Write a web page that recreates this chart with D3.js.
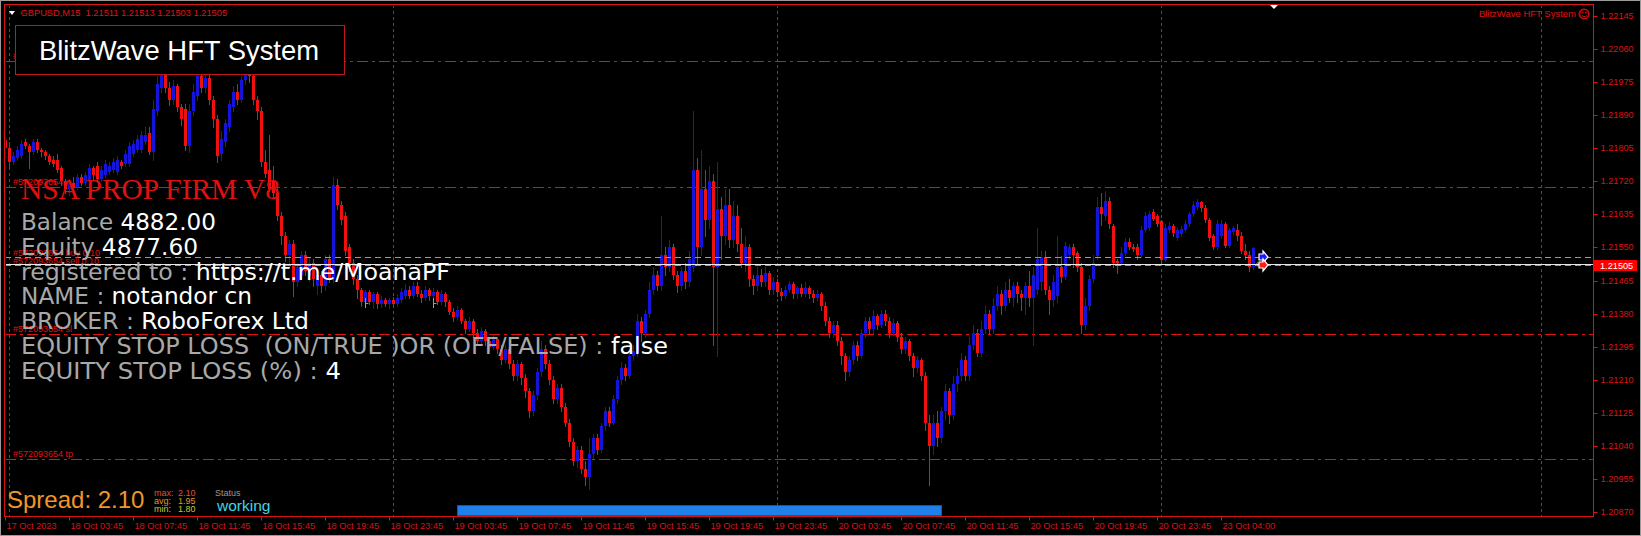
<!DOCTYPE html>
<html><head><meta charset="utf-8">
<script src="https://cdn.jsdelivr.net/npm/d3@7"></script>
<style>html,body{margin:0;padding:0;background:#000;overflow:hidden}svg text{white-space:pre}</style>
</head><body>
<svg id="chart" width="1641" height="536"></svg>
<script>
// ---------- data ----------
const symbolHeader = "GBPUSD,M15  1.21511 1.21513 1.21503 1.21505";
const priceTicks = [1.22145,1.22060,1.21975,1.21890,1.21805,1.21720,1.21635,1.21550,1.21465,1.21380,1.21295,1.21210,1.21125,1.21040,1.20955,1.20870];
const timeTickBars = [0,16,32,48,64,80,96,112,128,144,160,176,192,208,224,240,256,272,288,304];
const timeLabels = ["17 Oct 2023","18 Oct 03:45","18 Oct 07:45","18 Oct 11:45","18 Oct 15:45","18 Oct 19:45","18 Oct 23:45","19 Oct 03:45","19 Oct 07:45","19 Oct 11:45","19 Oct 15:45","19 Oct 19:45","19 Oct 23:45","20 Oct 03:45","20 Oct 07:45","20 Oct 11:45","20 Oct 15:45","20 Oct 19:45","20 Oct 23:45","23 Oct 04:00"];
const daySeparatorBars = [1,97,193,289,384];

// M15 candles, bar 0 = 17 Oct 23:45
const open = [
1.21825,1.21805,1.2177,1.2178,1.21785,1.2182,1.2181,1.21795,1.2182,1.218,
1.21795,1.21785,1.21775,1.21775,1.21755,1.2172,1.217,1.21715,1.21705,1.2173,
1.21715,1.2172,1.21755,1.2176,1.21725,1.21735,1.21745,1.2175,1.21745,1.2177,
1.21765,1.21765,1.2179,1.218,1.218,1.2182,1.21845,1.21795,1.219,1.2196,
1.2201,1.2196,1.2193,1.21965,1.2191,1.21905,1.2181,1.219,1.2194,1.2199,
1.2196,1.21985,1.2193,1.2188,1.2179,1.2182,1.2186,1.2191,1.2195,1.2193,
1.2198,1.2201,1.2199,1.2193,1.219,1.2177,1.2175,1.2172,1.2169,1.2163,
1.2158,1.2153,1.2156,1.2146,1.2148,1.2153,1.2148,1.2151,1.2145,1.2148,
1.2145,1.2152,1.2147,1.2171,1.2166,1.2163,1.2155,1.2151,1.2147,1.2144,
1.2141,1.21435,1.2141,1.2143,1.21405,1.21415,1.21405,1.21415,1.21405,1.21415,
1.21425,1.2144,1.21425,1.2145,1.2143,1.2142,1.2144,1.21425,1.21435,1.2141,
1.2143,1.2141,1.21385,1.2137,1.2139,1.2136,1.2134,1.2136,1.2133,1.2131,
1.21335,1.2131,1.21295,1.21315,1.2129,1.2126,1.2129,1.2125,1.2122,1.2125,
1.21215,1.2118,1.2113,1.2117,1.2123,1.2129,1.2125,1.2121,1.2116,1.2119,
1.2114,1.211,1.2105,1.21,1.2103,1.2098,1.2096,1.2102,1.2106,1.2103,
1.2109,1.2113,1.211,1.2116,1.2121,1.2124,1.2122,1.2127,1.2128,1.2136,
1.2133,1.2138,1.2144,1.2148,1.2145,1.2153,1.215,1.2155,1.2148,1.2145,
1.2149,1.2146,1.215,1.2175,1.2155,1.217,1.2162,1.2172,1.215,1.2165,
1.2158,1.2166,1.2157,1.2163,1.2156,1.2151,1.2155,1.2147,1.2145,1.2148,
1.2146,1.21485,1.2144,1.2146,1.21435,1.21425,1.2144,1.21455,1.2143,1.21445,
1.2143,1.21445,1.2143,1.2142,1.2143,1.214,1.2136,1.2133,1.2135,1.2131,
1.2127,1.2123,1.2126,1.213,1.2127,1.2133,1.2136,1.2134,1.21375,1.2135,
1.2138,1.2136,1.2133,1.21355,1.2132,1.2129,1.2131,1.2127,1.2124,1.2126,
1.2122,1.211,1.2104,1.211,1.2106,1.2113,1.2118,1.2112,1.212,1.2122,
1.2126,1.2122,1.213,1.2133,1.2128,1.2134,1.2138,1.2134,1.214,1.2143,
1.214,1.2144,1.2142,1.2145,1.2143,1.2142,1.2145,1.2142,1.2144,1.2146,
1.21525,1.2144,1.21415,1.21425,1.215,1.21475,1.2153,1.2155,1.21535,1.215,
1.2135,1.214,1.2147,1.21527,1.21655,1.2163,1.2167,1.21604,1.21515,1.2151,
1.21535,1.21565,1.21552,1.2155,1.2153,1.21596,1.216,1.2164,1.2163,1.21618,
1.21517,1.21595,1.21606,1.21575,1.21585,1.21595,1.2161,1.21635,1.21655,1.21668,
1.21652,1.2162,1.2158,1.2155,1.2158,1.2161,1.21555,1.2159,1.21595,1.2158,
1.2154,1.2153,1.215,1.21511];
const high = [
1.21835,1.2182,1.21795,1.2181,1.21825,1.2183,1.21815,1.2183,1.2183,1.21805,
1.218,1.2179,1.21785,1.2179,1.2176,1.21725,1.21725,1.2173,1.2174,1.2174,
1.21745,1.21765,1.2176,1.2177,1.2176,1.21775,1.2177,1.2178,1.21785,1.21775,
1.218,1.2182,1.21825,1.2184,1.2185,1.2186,1.2186,1.2193,1.2199,1.2203,
1.2202,1.21975,1.2198,1.2197,1.2192,1.2192,1.2192,1.2197,1.22005,1.22,
1.2201,1.21995,1.2194,1.2189,1.2185,1.2188,1.2193,1.21965,1.2197,1.2199,
1.2203,1.22025,1.22,1.2194,1.2191,1.218,1.2184,1.2176,1.2171,1.2164,
1.2159,1.2157,1.2157,1.2151,1.2154,1.2154,1.21525,1.2152,1.2149,1.2149,
1.2153,1.2153,1.2173,1.21725,1.2167,1.2164,1.2156,1.2152,1.2148,1.21445,
1.2144,1.2144,1.21435,1.21435,1.21425,1.2142,1.2142,1.21423,1.2143,1.21445,
1.21455,1.2145,1.2146,1.2146,1.2144,1.2145,1.21445,1.21445,1.2144,1.2144,
1.21435,1.21415,1.21395,1.214,1.21395,1.21365,1.2137,1.21365,1.2134,1.21345,
1.2134,1.2132,1.21325,1.2132,1.213,1.213,1.21295,1.2126,1.2126,1.21255,
1.21225,1.2119,1.2118,1.2124,1.2131,1.213,1.2126,1.2122,1.212,1.212,
1.2115,1.2111,1.2106,1.2104,1.2104,1.21,1.2106,1.2107,1.2107,1.211,
1.2114,1.2114,1.2117,1.2122,1.21255,1.2125,1.2128,1.213,1.2138,1.2137,
1.2139,1.2146,1.215,1.2149,1.2163,1.2155,1.2157,1.2156,1.2149,1.215,
1.2151,1.2154,1.219,1.2178,1.218,1.2175,1.2176,1.2174,1.2177,1.2168,
1.217,1.217,1.2167,1.2166,1.216,1.2158,1.2156,1.2148,1.215,1.21495,
1.215,1.2149,1.21475,1.2147,1.21445,1.2145,1.21465,1.2146,1.2145,1.21455,
1.2146,1.2145,1.2144,1.2144,1.21435,1.2141,1.2137,1.2136,1.2136,1.2132,
1.2128,1.2127,1.2131,1.2131,1.2134,1.2137,1.2137,1.2139,1.2138,1.2139,
1.2139,1.2137,1.21365,1.2136,1.2133,1.2132,1.21315,1.2128,1.2127,1.21265,
1.2123,1.2112,1.2112,1.2113,1.2114,1.212,1.2119,1.2122,1.2124,1.2128,
1.2127,1.2132,1.2135,1.2134,1.2136,1.214,1.2139,1.2142,1.2145,1.2144,
1.2146,1.2147,1.2146,1.2146,1.2144,1.2146,1.2149,1.215,1.216,1.2154,
1.2154,1.2145,1.2148,1.2158,1.21527,1.21565,1.2156,1.2156,1.2154,1.2151,
1.2142,1.2148,1.2153,1.2168,1.2169,1.21695,1.2168,1.2161,1.2152,1.2155,
1.21575,1.21575,1.21558,1.21558,1.21605,1.2164,1.21645,1.2165,1.21635,1.2162,
1.2161,1.21615,1.2161,1.216,1.21605,1.2162,1.2164,1.2167,1.21675,1.2167,
1.2166,1.21625,1.21585,1.2162,1.2162,1.21615,1.216,1.21605,1.2161,1.2159,
1.2156,1.2154,1.2155,1.21513];
const low = [
1.218,1.2176,1.21765,1.21775,1.2178,1.21805,1.21755,1.2179,1.21795,1.21785,
1.21778,1.21765,1.2176,1.21745,1.2171,1.2169,1.21685,1.217,1.217,1.2171,
1.2171,1.21715,1.21725,1.2172,1.2172,1.2173,1.2174,1.21745,1.2174,1.21755,
1.2176,1.2176,1.21785,1.21795,1.21795,1.21815,1.2179,1.21775,1.2189,1.2195,
1.2195,1.21915,1.2192,1.219,1.21865,1.218,1.21795,1.2189,1.2193,1.2195,
1.2195,1.2192,1.2186,1.2177,1.21775,1.2181,1.2185,1.219,1.2192,1.21925,
1.2197,1.21975,1.2192,1.2188,1.2176,1.2173,1.21695,1.2168,1.2162,1.2156,
1.21515,1.215,1.21425,1.2145,1.2147,1.2148,1.21465,1.2145,1.2143,1.21435,
1.2144,1.2146,1.2146,1.2165,1.2161,1.2153,1.2149,1.21455,1.2142,1.214,
1.214,1.21405,1.21395,1.21395,1.21398,1.214,1.21395,1.214,1.214,1.2141,
1.2142,1.2142,1.2142,1.21425,1.2141,1.21415,1.21415,1.2142,1.21405,1.21405,
1.214,1.2138,1.2136,1.21365,1.21355,1.2133,1.21335,1.2132,1.213,1.21305,
1.213,1.21285,1.2129,1.2128,1.2125,1.21255,1.2124,1.2121,1.2121,1.212,
1.21165,1.21115,1.2112,1.2116,1.2122,1.2124,1.212,1.2115,1.2115,1.2113,
1.2109,1.2104,1.2099,1.20985,1.2097,1.2094,1.2093,1.2101,1.2102,1.21025,
1.2108,1.2109,1.21095,1.2115,1.212,1.2121,1.21215,1.2126,1.2127,1.2131,
1.2132,1.2137,1.2143,1.2144,1.2144,1.2148,1.2149,1.2147,1.21435,1.2144,
1.21445,1.2145,1.2149,1.2151,1.2153,1.2158,1.216,1.213,1.2127,1.2152,
1.2156,1.2155,1.2155,1.2154,1.215,1.2149,1.2145,1.2143,1.2144,1.2145,
1.2145,1.2143,1.2143,1.21425,1.21415,1.2142,1.21435,1.2142,1.2142,1.21425,
1.21425,1.2142,1.2141,1.21415,1.2139,1.2135,1.2132,1.2132,1.213,1.2125,
1.2121,1.2122,1.2125,1.2126,1.21265,1.2132,1.2133,1.2133,1.2134,1.21345,
1.2135,1.2132,1.21325,1.2131,1.2128,1.2128,1.2126,1.2122,1.2123,1.2121,
1.2108,1.2094,1.2102,1.2104,1.2105,1.2111,1.211,1.2111,1.2118,1.2121,
1.2121,1.2121,1.2129,1.2127,1.2127,1.2133,1.2133,1.2133,1.2139,1.2138,
1.2139,1.2141,1.214,1.2141,1.2139,1.2138,1.214,1.213,1.2143,1.2144,
1.2143,1.2138,1.214,1.2141,1.2146,1.2147,1.2152,1.215,1.2149,1.2133,
1.2134,1.2139,1.2146,1.2152,1.21608,1.2162,1.216,1.215,1.21485,1.21505,
1.2153,1.21545,1.2154,1.2152,1.21525,1.2159,1.21595,1.2162,1.21605,1.2151,
1.21515,1.2159,1.2158,1.2157,1.2158,1.2159,1.21605,1.2163,1.2165,1.21645,
1.21615,1.2157,1.21545,1.21545,1.21575,1.2155,1.2155,1.21585,1.2157,1.21535,
1.2152,1.2149,1.21495,1.21503];
const close = [
1.21805,1.2177,1.21785,1.218,1.21815,1.2181,1.21795,1.2182,1.218,1.21795,
1.21785,1.2177,1.21765,1.2175,1.2172,1.217,1.21715,1.21705,1.2173,1.21715,
1.21735,1.21755,1.21735,1.21725,1.2175,1.21765,1.2176,1.2177,1.21775,1.2176,
1.2179,1.2181,1.21815,1.2183,1.2184,1.2184,1.21795,1.21905,1.2197,1.2201,
1.2196,1.2193,1.21965,1.2191,1.2188,1.2181,1.219,1.2195,1.2199,1.2196,
1.21985,1.2193,1.2188,1.21785,1.2183,1.2187,1.2192,1.2195,1.2193,1.2198,
1.2201,1.2199,1.2193,1.219,1.2177,1.2174,1.217,1.2169,1.2163,1.2158,
1.2153,1.2156,1.2146,1.215,1.2153,1.2149,1.2151,1.2147,1.2148,1.2145,
1.2152,1.2147,1.2171,1.2166,1.2162,1.2154,1.2151,1.2147,1.2144,1.2141,
1.21435,1.2141,1.2143,1.21405,1.21415,1.21405,1.21415,1.21405,1.2142,1.21435,
1.2144,1.21425,1.2145,1.2143,1.2142,1.2144,1.21425,1.21435,1.2141,1.2143,
1.2141,1.21385,1.2137,1.2139,1.2136,1.2134,1.2136,1.2133,1.2131,1.21335,
1.2131,1.21295,1.21315,1.2129,1.2126,1.2129,1.2125,1.2122,1.2125,1.21215,
1.2118,1.2113,1.2117,1.2123,1.2129,1.2125,1.2121,1.2116,1.2119,1.2114,
1.211,1.2105,1.21,1.2103,1.2098,1.2096,1.2102,1.2106,1.2103,1.2109,
1.2113,1.211,1.2116,1.2121,1.2124,1.2122,1.2127,1.21285,1.2136,1.2133,
1.2138,1.2144,1.2148,1.2145,1.2153,1.215,1.2155,1.2148,1.2145,1.2149,
1.2146,1.2152,1.2175,1.2155,1.217,1.2162,1.2172,1.215,1.2165,1.2158,
1.2166,1.2157,1.2163,1.2156,1.2151,1.2155,1.2147,1.2145,1.2148,1.2146,
1.21485,1.2144,1.2146,1.21435,1.21425,1.2144,1.21455,1.2143,1.21445,1.2143,
1.21445,1.2143,1.2142,1.2143,1.214,1.2136,1.2133,1.2135,1.2131,1.2127,
1.2123,1.2126,1.213,1.2127,1.2133,1.2136,1.2134,1.21375,1.2135,1.2138,
1.2136,1.2133,1.21355,1.2132,1.2129,1.2131,1.2127,1.2124,1.2126,1.2122,
1.211,1.2104,1.211,1.2106,1.2113,1.2118,1.2112,1.212,1.2122,1.2126,
1.2122,1.213,1.2133,1.2128,1.2134,1.2138,1.2134,1.214,1.2143,1.214,
1.2144,1.2142,1.2145,1.2143,1.2142,1.2145,1.2142,1.2148,1.2152,1.21525,
1.2144,1.21415,1.2146,1.215,1.21475,1.21555,1.2155,1.2153,1.215,1.2135,
1.214,1.2147,1.2151,1.21653,1.21636,1.2167,1.2161,1.2151,1.2151,1.21537,
1.21565,1.21552,1.21547,1.2153,1.21596,1.2163,1.21635,1.21624,1.2161,1.21517,
1.21599,1.21606,1.21586,1.21595,1.21598,1.2161,1.21635,1.2166,1.21668,1.21652,
1.2162,1.21575,1.2155,1.2161,1.2161,1.21555,1.21595,1.216,1.2158,1.2154,
1.2153,1.215,1.21548,1.21505];

const bid = 1.21505;
const orderLevels = [1.22029,1.21706,1.21327,1.21005];
const orderLabels = ["#572093654 tp","#572093654","#572093654 sl","#572093654 tp"];
const openOrders = [1.21526,1.21505];
const openOrderLabels = ["#572093654 buy 0.10","#572093654 sell 0.10"];
const tradeMarkBars = [90,107];
const tradeMarkPrices = [1.21407,1.21407];
const infoLabels = ["Balance ","Equity ","registered to : ","NAME : ","BROKER : ","EQUITY STOP LOSS  (ON/TRUE )OR (OFF/FALSE) : ","EQUITY STOP LOSS (%) : "];
const infoValues = ["4882.00","4877.60","https://t.me/MoanaPF","notandor cn","RoboForex Ltd","false","4"];
const infoWidths = [195,177,429,231,288,647,320];
const spreadNow = "2.10";
const spreadStats = [["max:","2.10"],["avg:","1.95"],["min:","1.80"]];
const progressBars = [113,234];

// ---------- setup ----------
const W=1641,H=536;
const P={l:5,t:5,r:1593,b:516};
const RED="#e01212", AX="#d81414";
const svg=d3.select("#chart");
svg.append("rect").attr("width",W).attr("height",H).attr("fill","#000");
const y=d3.scaleLinear().domain([1.20870,1.22145]).range([512,16]);
const x=d3.scaleLinear().domain([0,397]).range([5,5+4*397]);
const cx=i=>Math.round(x(i));

svg.append("clipPath").attr("id","plotclip").append("rect")
  .attr("x",P.l+1).attr("y",P.t+1).attr("width",P.r-P.l-1).attr("height",P.b-P.t-1);
const plot=svg.append("g").attr("clip-path","url(#plotclip)");

plot.selectAll("line.vg").data(daySeparatorBars).enter().append("line")
  .attr("x1",d=>cx(d)+0.5).attr("x2",d=>cx(d)+0.5).attr("y1",P.t).attr("y2",P.b)
  .attr("stroke",AX).attr("stroke-dasharray","3,3").attr("stroke-width",1);

plot.selectAll("line.ol").data(orderLevels).enter().append("line")
  .attr("x1",P.l).attr("x2",P.r).attr("y1",d=>Math.round(y(d))+0.5).attr("y2",d=>Math.round(y(d))+0.5)
  .attr("stroke",RED).attr("stroke-dasharray","11,4,3,4");
plot.selectAll("text.ol").data(orderLevels).enter().append("text")
  .attr("x",13).attr("y",d=>Math.round(y(d))-2).text((d,i)=>orderLabels[i])
  .attr("fill",RED).attr("font-family","Liberation Sans, Arial").attr("font-size",9);

// candles
const idx=d3.range(open.length);
const BLUE="#1414dc", CRED="#f01010";
const col=i=>close[i]>open[i]?BLUE:CRED;
plot.selectAll("line.wick").data(idx).enter().append("line")
  .attr("x1",i=>cx(i)+0.5).attr("x2",i=>cx(i)+0.5)
  .attr("y1",i=>Math.round(y(high[i]))).attr("y2",i=>Math.round(y(low[i]))+1)
  .attr("stroke",col);
plot.selectAll("rect.body").data(idx).enter().append("rect")
  .attr("x",i=>cx(i)-1).attr("width",3)
  .attr("y",i=>Math.round(y(Math.max(open[i],close[i]))))
  .attr("height",i=>Math.max(1,Math.round(y(Math.min(open[i],close[i])))-Math.round(y(Math.max(open[i],close[i])))))
  .attr("fill",col);

// trade marks
tradeMarkBars.forEach((b,i)=>{
  const xx=cx(b)+0.5, yy=Math.round(y(tradeMarkPrices[i]));
  plot.append("line").attr("x1",xx).attr("x2",xx).attr("y1",yy-5).attr("y2",yy+5).attr("stroke","#30e030");
  plot.append("line").attr("x1",xx).attr("x2",xx+3).attr("y1",yy+0.5).attr("y2",yy+0.5).attr("stroke","#30e030");
});

// bid line and open-order lines
plot.append("line").attr("x1",P.l).attr("x2",P.r).attr("y1",Math.round(y(bid))-0.5).attr("y2",Math.round(y(bid))-0.5)
  .attr("stroke","#e8e8e8");
plot.selectAll("line.oo").data(openOrders).enter().append("line")
  .attr("x1",P.l).attr("x2",P.r).attr("y1",d=>Math.round(y(d))+0.5).attr("y2",d=>Math.round(y(d))+0.5)
  .attr("stroke","#58c858").attr("stroke-dasharray","6,4");
plot.selectAll("text.oo").data(openOrders).enter().append("text")
  .attr("x",13).attr("y",d=>Math.round(y(d))-1.5).text((d,i)=>openOrderLabels[i])
  .attr("fill",RED).attr("font-family","Liberation Sans, Arial").attr("font-size",9);

// trade arrows at last bar
const lastX=cx(open.length-1)+6;
[[openOrders[0],"#1a1aff"],[openOrders[1],"#ff1a1a"]].forEach(([p,c])=>{
  const yy=Math.round(y(p));
  plot.append("path").attr("d",`M${lastX-4},${yy-3} L${lastX},${yy-3} L${lastX},${yy-6} L${lastX+5},${yy} L${lastX},${yy+6} L${lastX},${yy+3} L${lastX-4},${yy+3} Z`)
    .attr("fill",c).attr("stroke","#fff").attr("stroke-width",1.2);
});

// frame
svg.append("rect").attr("x",P.l-0.5).attr("y",P.t-0.5).attr("width",P.r-P.l+1).attr("height",P.b-P.t+1)
  .attr("fill","none").attr("stroke",AX);

// price axis
const yAxis=d3.axisRight(y).tickValues(priceTicks).tickSize(4).tickPadding(3).tickFormat(d3.format(".5f"));
const ya=svg.append("g").attr("transform",`translate(${P.r+0.5},0)`).call(yAxis);
ya.select(".domain").remove();
ya.selectAll(".tick").attr("transform",d=>`translate(0,${Math.round(y(d))+0.5})`);
ya.selectAll("line").attr("stroke",AX);
ya.selectAll("text").attr("fill",AX).attr("font-family","Liberation Sans, Arial").attr("font-size",9.2);

const by=Math.round(y(bid));
svg.append("rect").attr("x",1594).attr("y",by-5).attr("width",43).attr("height",11).attr("fill","#ff0000");
svg.append("text").attr("x",1600).attr("y",by+3.5).text(d3.format(".5f")(bid))
  .attr("fill","#fff").attr("font-family","Liberation Sans, Arial").attr("font-size",9.2);

// time axis
const xAxis=d3.axisBottom(x).tickValues(timeTickBars).tickSize(4).tickFormat((d,i)=>timeLabels[i]);
const xa=svg.append("g").attr("transform",`translate(0,${P.b+0.5})`).call(xAxis);
xa.select(".domain").remove();
xa.selectAll(".tick").attr("transform",d=>`translate(${cx(d)+0.5},0)`);
xa.selectAll("line").attr("stroke",AX);
xa.selectAll("text").attr("fill",AX).attr("font-family","Liberation Sans, Arial").attr("font-size",9.2)
  .attr("text-anchor","start").attr("x",1).attr("y",6).attr("dy","0.71em");

// blue progress strip
svg.append("rect").attr("x",cx(progressBars[0])+0.5).attr("y",505.5).attr("width",cx(progressBars[1])-cx(progressBars[0])).attr("height",10)
  .attr("fill","#1e80ea").attr("stroke","#b02020");

// header
svg.append("path").attr("d","M9,11 L15,11 L12,15 Z").attr("fill","#fff");
svg.append("text").attr("x",20.5).attr("y",16).text(symbolHeader)
  .attr("fill",RED).attr("font-family","Liberation Sans, Arial").attr("font-size",9.3);
svg.append("text").attr("x",1576).attr("y",17).attr("text-anchor","end").text("BlitzWave HFT System")
  .attr("fill",RED).attr("font-family","Liberation Sans, Arial").attr("font-size",9.5);
svg.append("circle").attr("cx",1584).attr("cy",14).attr("r",5).attr("fill","none").attr("stroke",RED);
svg.append("text").attr("x",1584).attr("y",17.5).attr("text-anchor","middle").text("☺").attr("fill",RED).attr("font-size",11).attr("font-family","DejaVu Sans");
svg.append("path").attr("d","M1270,5 L1278,5 L1274,9 Z").attr("fill","#fff");

// title box
svg.append("rect").attr("x",15.5).attr("y",25.5).attr("width",329).attr("height",49).attr("fill","#000").attr("stroke","#c01818");
svg.append("text").attr("x",39).attr("y",60).text("BlitzWave HFT System")
  .attr("fill","#fff").attr("font-family","Liberation Sans, Arial").attr("font-size",27.4);

// panel
svg.append("text").attr("x",21).attr("y",198.5).text("NSA PROP FIRM V8")
  .attr("fill","#e01010").attr("font-family","Liberation Serif, Times New Roman").attr("font-size",28.5)
  .attr("textLength",259).attr("lengthAdjust","spacingAndGlyphs");
infoLabels.forEach((lab,i)=>{
  const t=svg.append("text").attr("x",21).attr("y",230+i*24.8)
    .attr("font-family","DejaVu Sans, Verdana").attr("font-size",23)
    .attr("textLength",infoWidths[i]).attr("lengthAdjust","spacingAndGlyphs");
  t.append("tspan").attr("fill","#a8a8a8").text(lab);
  t.append("tspan").attr("fill","#ffffff").text(infoValues[i]);
});

// spread block
svg.append("text").attr("x",7).attr("y",508).text("Spread: "+spreadNow)
  .attr("fill","#f0962a").attr("font-family","Liberation Sans, Arial").attr("font-size",24);
const statCol=["#e0502e","#e0962a","#c8c832"];
spreadStats.forEach((s,i)=>{
  svg.append("text").attr("x",154).attr("y",495.5+i*8).text(s[0]).attr("fill",statCol[i]).attr("font-family","Liberation Sans, Arial").attr("font-size",9);
  svg.append("text").attr("x",178).attr("y",495.5+i*8).text(s[1]).attr("fill",statCol[i]).attr("font-family","Liberation Sans, Arial").attr("font-size",9);
});
svg.append("text").attr("x",215).attr("y",496).text("Status").attr("fill","#9a9a9a").attr("font-family","Liberation Sans, Arial").attr("font-size",9);
svg.append("text").attr("x",217).attr("y",511).text("working").attr("fill","#40d4e4").attr("font-family","Liberation Sans, Arial").attr("font-size",15.5);

svg.append("rect").attr("x",0.5).attr("y",0.5).attr("width",W-1).attr("height",H-1).attr("fill","none").attr("stroke","#9a9a9a");
</script>
</body></html>
